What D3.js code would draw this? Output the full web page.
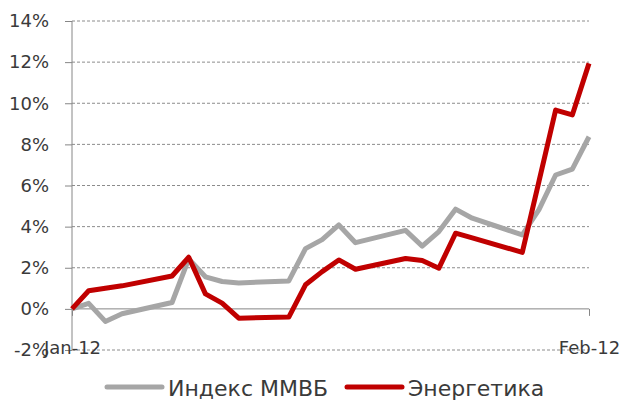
<!DOCTYPE html>
<html>
<head>
<meta charset="utf-8">
<script src="https://cdn.jsdelivr.net/npm/d3@7"></script>
<style>
  body { margin: 0; background: #fff; }
  svg text { font-family: "DejaVu Sans", sans-serif; fill: #3a3a3a; }
</style>
</head>
<body>
<svg id="chart" width="625" height="401"></svg>
<script>
// trading days, Jan 10 - Feb 10 2012
const dates = ["2012-01-10", "2012-01-11", "2012-01-12", "2012-01-13", "2012-01-16",
    "2012-01-17", "2012-01-18", "2012-01-19", "2012-01-20", "2012-01-23",
    "2012-01-24", "2012-01-25", "2012-01-26", "2012-01-27", "2012-01-30",
    "2012-01-31", "2012-02-01", "2012-02-02", "2012-02-03", "2012-02-06",
    "2012-02-07", "2012-02-08", "2012-02-09", "2012-02-10"];

// cumulative change, %
const micex = [0, 0.27, -0.61, -0.24, 0.31, 2.43, 1.56, 1.33, 1.26, 1.36,
    2.93, 3.37, 4.08, 3.22, 3.82, 3.05, 3.76, 4.85, 4.41, 3.6,
    4.83, 6.51, 6.8, 8.37];
const energy = [0, 0.88, 1.0, 1.12, 1.6, 2.51, 0.73, 0.28, -0.45, -0.4,
    1.17, 1.81, 2.38, 1.93, 2.45, 2.35, 1.98, 3.68, 3.45, 2.75,
    6.2, 9.67, 9.43, 11.94];

const seriesNames = ["Индекс ММВБ", "Энергетика"];
const seriesColors = ["#a6a6a6", "#c00000"];
const yTicks = [-2, 0, 2, 4, 6, 8, 10, 12, 14];
const xTicks = ["2012-01-10", "2012-02-10"];

const parse = d3.utcParse("%Y-%m-%d");
const svg = d3.select("#chart");

const plotLeft = 72, plotRight = 589, plotTop = 21, plotBottom = 350;

const x = d3.scaleUtc()
    .domain([parse(dates[0]), parse(dates[dates.length - 1])])
    .range([plotLeft, plotRight]);

const y = d3.scaleLinear()
    .domain([-2, 14])
    .range([plotBottom, plotTop]);

// dashed gridlines
svg.append("g")
    .selectAll("line")
    .data(yTicks.filter(d => d !== 0))
    .join("line")
    .attr("x1", plotLeft)
    .attr("x2", plotRight)
    .attr("y1", d => y(d))
    .attr("y2", d => y(d))
    .attr("stroke", "#8c8c8c")
    .attr("stroke-width", 1)
    .attr("stroke-dasharray", "3,2");

// y axis
const yAxis = svg.append("g")
    .attr("transform", `translate(${plotLeft},0)`)
    .call(d3.axisLeft(y)
        .tickValues(yTicks)
        .tickSize(7)
        .tickPadding(16)
        .tickFormat(d => d + "%"));
yAxis.select(".domain").attr("stroke", "#868686").attr("d", `M0,${plotTop}V${plotBottom}`);
yAxis.selectAll(".tick line").attr("stroke", "#868686");
yAxis.selectAll("text").style("font-size", "18px").attr("fill", "#3a3a3a");

// x axis on the 0% line
const xAxis = svg.append("g")
    .attr("transform", `translate(0,${y(0)})`)
    .call(d3.axisBottom(x)
        .tickValues(xTicks.map(parse))
        .tickSize(7)
        .tickPadding(25)
        .tickFormat(d3.utcFormat("%b-%y")));
xAxis.select(".domain").attr("stroke", "#868686").attr("d", `M${plotLeft},0H${plotRight}`);
xAxis.selectAll(".tick line").attr("stroke", "#868686");
xAxis.selectAll("text").style("font-size", "18px").attr("fill", "#3a3a3a");

// lines
const line = d3.line()
    .x((d, i) => x(parse(dates[i])))
    .y(d => y(d));

[micex, energy].forEach((s, k) => {
    svg.append("path")
        .datum(s)
        .attr("d", line)
        .attr("fill", "none")
        .attr("stroke", seriesColors[k])
        .attr("stroke-width", 5)
        .attr("stroke-linejoin", "round");
});

// legend
const legendX = [107, 347];
const legend = svg.append("g");
seriesNames.forEach((name, k) => {
    legend.append("line")
        .attr("x1", legendX[k])
        .attr("x2", legendX[k] + 55)
        .attr("y1", 387)
        .attr("y2", 387)
        .attr("stroke", seriesColors[k])
        .attr("stroke-width", 5)
        .attr("stroke-linecap", "round");
    legend.append("text")
        .attr("x", legendX[k] + 61)
        .attr("y", 396)
        .style("font-size", "22px")
        .text(name);
});
</script>
</body>
</html>
